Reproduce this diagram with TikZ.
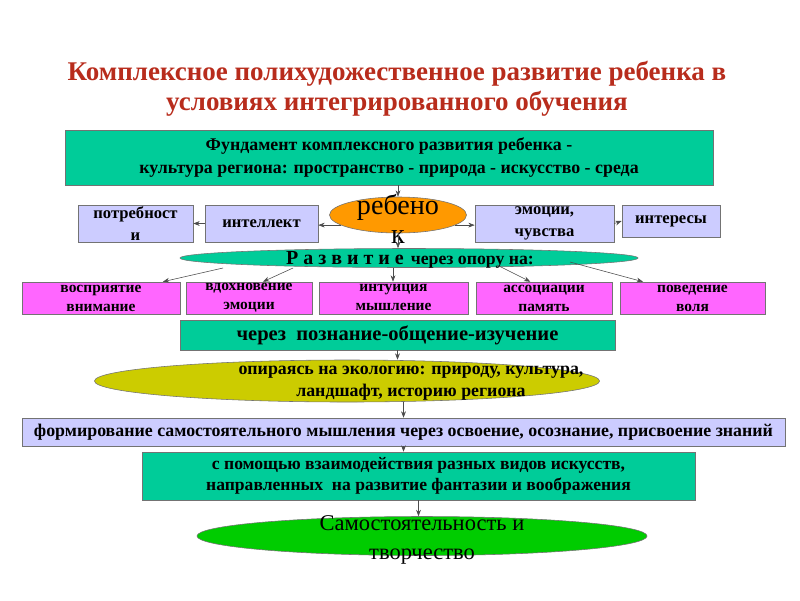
\documentclass[tikz,border=0pt]{standalone}
\usepackage{fontspec}
\setmainfont{Liberation Serif}
\usetikzlibrary{arrows.meta,calc,shapes.geometric}
\definecolor{boxG}{RGB}{0,204,153}
\definecolor{boxL}{RGB}{204,204,255}
\definecolor{boxM}{RGB}{255,102,255}
\definecolor{ellO}{RGB}{255,153,0}
\definecolor{ellY}{RGB}{204,204,0}
\definecolor{ellG}{RGB}{0,204,0}
\definecolor{titR}{RGB}{184,44,28}
\tikzset{
  box/.style={draw=black!55,align=center,inner sep=1pt},
  gbox/.style={box,fill=boxG},
  lbox/.style={box,fill=boxL,minimum height=0.925cm,font=\fontsize{11.8}{15.5}\selectfont\bfseries},
  mbox/.style={box,fill=boxM,minimum height=0.8cm,inner ysep=0pt,font=\fontsize{11}{13.5}\selectfont\bfseries},
  oval/.style={ellipse,draw=black!55,inner sep=0pt},
  lbl/.style={align=center,inner sep=0pt},
  arr/.style={->,black!70,thin}
}
\begin{document}
\begin{tikzpicture}[x=0.025cm,y=-0.025cm,>={Stealth[length=1.6mm,width=1.2mm]}]
\useasboundingbox (0,0) rectangle (800,600);
% title
\node[lbl,text=titR,font=\fontsize{19.2}{21}\selectfont\bfseries] (title) at (397,89) {Комплексное полихудожественное развитие ребенка в\\условиях интегрированного обучения};
% foundation and the child
\node[gbox,minimum width=16.2cm,minimum height=1.375cm,font=\fontsize{12.7}{16.5}\selectfont\bfseries] (found) at (389,157.5) {Фундамент комплексного развития ребенка -\\культура региона: пространство - природа - искусство - среда};
\node[oval,fill=ellO,minimum width=3.425cm,minimum height=0.9cm] (child) at (398,215) {};
\node[lbl,font=\fontsize{20}{21}\selectfont] (childtxt) at (398,219) {ребено\\к};
\node[lbox,minimum width=2.875cm] (needs) at (135.5,223.5) {потребност\\и};
\node[lbox,minimum width=2.825cm] (intel) at (261.5,223.5) {интеллект};
\node[lbox,minimum width=3.475cm] (emot) at (544.5,223.5) {эмоции,\\чувства};
\node[lbox,minimum width=2.45cm,minimum height=0.8cm] (inter) at (671,221) {интересы};
\draw[arr] (child.north |- found.south) -- (child.north);
\draw[arr] (child.190) -- (child.190 -| intel.east);
\draw[arr] (intel.west) -- (needs.east);
\draw[arr] (child.-10) -- (child.-10 -| emot.west);
\draw[arr] (emot.east) -- (inter.west);
% development
\node[oval,fill=boxG,minimum width=11.45cm,minimum height=0.475cm] (dev) at (409,258) {};
\node[lbl,font=\bfseries] (devtxt) at (410,260) {{\fontsize{14.2}{14}\selectfont Р а з в и т и е}\ \ {\fontsize{12.6}{12}\selectfont через опору на:}};
\draw[arr] (child.south) -- (child.south |- dev.north);
\node[mbox,minimum width=3.95cm] (b1) at (101,298) {восприятие\\внимание};
\node[mbox,minimum width=3.15cm] (b2) at (249,298) {вдохновение\\эмоции};
\node[mbox,minimum width=3.725cm] (b3) at (393.5,298) {интуиция\\мышление};
\node[mbox,minimum width=3.4cm] (b4) at (544,298) {ассоциации\\память};
\node[mbox,minimum width=3.625cm] (b5) at (692.5,298) {поведение\\воля};
\coordinate (d1) at ($(dev.center)+(-186,10)$);
\coordinate (d2) at ($(dev.center)+(-116,10)$);
\coordinate (d3) at ($(dev.center)+(-16,10)$);
\coordinate (d4) at ($(dev.center)+(88,7)$);
\coordinate (d5) at ($(dev.center)+(161,4)$);
\draw[arr] (d1) -- ($(b1.north west)!0.89!(b1.north east)$);
\draw[arr] (d2) -- ($(b2.north west)!0.61!(b2.north east)$);
\draw[arr] (d3) -- (d3 |- b3.north);
\draw[arr] (d4) -- ($(b4.north west)!0.4!(b4.north east)$);
\draw[arr] (d5) -- ($(b5.north west)!0.16!(b5.north east)$);
% lower chain
\node[gbox,minimum width=10.875cm,minimum height=0.75cm,font=\fontsize{14.6}{15}\selectfont\bfseries] (path) at (397.5,335) {через\ \ познание-общение-изучение};
\node[oval,fill=ellY,minimum width=12.625cm,minimum height=1.05cm] (eco) at (347,381) {};
\node[lbl,font=\fontsize{12.7}{15.5}\selectfont\bfseries] (ecotxt) at (411,383) {опираясь на экологию: природу, культура,\\ландшафт, историю региона};
\node[box,fill=boxL,minimum width=19.075cm,minimum height=0.7cm,font=\fontsize{12.7}{14}\selectfont\bfseries] (form) at (403.5,432) {формирование самостоятельного мышления через освоение, осознание, присвоение знаний};
\node[gbox,minimum width=13.825cm,minimum height=1.2cm,font=\fontsize{12.5}{15}\selectfont\bfseries] (art) at (418.5,476) {с помощью взаимодействия разных видов искусств,\\направленных\ \ на развитие фантазии и воображения};
\node[oval,fill=ellG,minimum width=11.25cm,minimum height=0.975cm] (result) at (422,536) {};
\node[lbl,font=\fontsize{16}{21}\selectfont] (resulttxt) at (422,540) {Самостоятельность и\\творчество};
\draw[arr] (path.south) -- (path.south |- eco.north);
\draw[arr] (eco.south -| form.north) -- (form.north);
\draw[arr] (form.south) -- (form.south |- art.north);
\draw[arr] (art.south) -- (art.south |- result.north);
\end{tikzpicture}
\end{document}
